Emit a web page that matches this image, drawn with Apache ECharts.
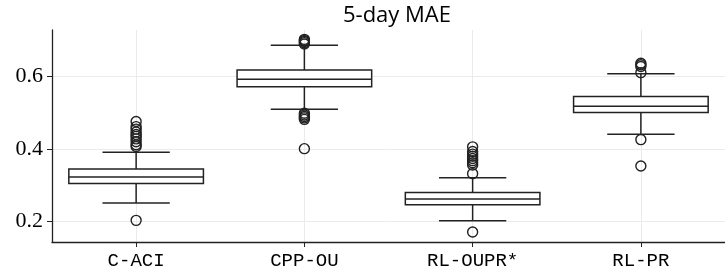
<!DOCTYPE html>
<html>
<head>
<meta charset="utf-8">
<script src="https://cdn.jsdelivr.net/npm/echarts@6/dist/echarts.min.js"></script>
<style>
html,body{margin:0;padding:0;background:#fff;}
#chart{width:725px;height:280px;}
</style>
</head>
<body>
<div id="chart"></div>
<script>
const categories = ['C-ACI', 'CPP-OU', 'RL-OUPR*', 'RL-PR'];
const lowWhisker = [0.251, 0.510, 0.202, 0.441];
const q1 = [0.305, 0.572, 0.246, 0.501];
const median = [0.323, 0.593, 0.262, 0.518];
const q3 = [0.345, 0.618, 0.280, 0.545];
const highWhisker = [0.391, 0.687, 0.321, 0.608];
const outliersCACI = [0.203, 0.407, 0.412, 0.420, 0.428, 0.435, 0.440, 0.447, 0.455, 0.462, 0.476];
const outliersCPPOU = [0.401, 0.482, 0.486, 0.490, 0.494, 0.499, 0.690, 0.694, 0.697, 0.700, 0.703];
const outliersRLOUPR = [0.171, 0.332, 0.356, 0.362, 0.368, 0.374, 0.380, 0.386, 0.393, 0.406];
const outliersRLPR = [0.353, 0.426, 0.611, 0.628, 0.633, 0.637];
const yTicks = [0.2, 0.4, 0.6];

const outlierLists = [outliersCACI, outliersCPPOU, outliersRLOUPR, outliersRLPR];
const boxData = categories.map((c, i) => [i + 1, lowWhisker[i], q1[i], median[i], q3[i], highWhisker[i]]);
const outlierData = [];
outlierLists.forEach((list, i) => list.forEach(v => outlierData.push([i + 1, v])));
const xTicks = categories.map((c, i) => i + 1);

const LINE = '#222';
const LW = 1.5;

const chart = echarts.init(document.getElementById('chart'), null, {renderer: 'canvas'});
chart.setOption({
  animation: false,
  backgroundColor: '#fff',
  title: {
    text: '5-day MAE',
    left: 392,
    top: 0,
    textAlign: 'center',
    textStyle: {fontFamily: 'Open Sans', fontSize: 22, fontWeight: 'normal', color: '#000'}
  },
  grid: {left: 52, top: 30, width: 680, height: 212, containLabel: false},
  xAxis: {
    type: 'value',
    min: 0.5,
    max: 4.5,
    axisLine: {show: true, onZero: false, lineStyle: {color: LINE, width: 1.3}},
    axisTick: {show: true, customValues: xTicks, length: 5, lineStyle: {color: LINE, width: 1}},
    axisLabel: {
      customValues: xTicks,
      formatter: v => categories[Math.round(v) - 1] || '',
      fontFamily: 'Liberation Mono', fontSize: 19, color: '#000', margin: 9
    },
    splitLine: {show: true, lineStyle: {color: '#ebebeb', width: 1}}
  },
  yAxis: {
    type: 'value',
    min: 0.1432,
    max: 0.7288,
    axisLine: {show: true, lineStyle: {color: LINE, width: 1.3}},
    axisTick: {show: true, customValues: yTicks, length: 5, lineStyle: {color: LINE, width: 1}},
    axisLabel: {
      customValues: yTicks,
      formatter: v => v.toFixed(1),
      fontFamily: 'Liberation Serif', fontSize: 22, color: '#000', margin: 9
    },
    splitLine: {show: true, lineStyle: {color: '#ebebeb', width: 1}}
  },
  series: [
    {
      type: 'custom',
      data: boxData,
      encode: {x: 0, y: [1, 2, 3, 4, 5]},
      z: 3,
      renderItem: function (params, api) {
        const x = api.value(0);
        const band = api.size([1, 0])[0];
        const bw = band * 0.8;
        const cw = band * 0.4;
        const pLow = api.coord([x, api.value(1)]);
        const pQ1 = api.coord([x, api.value(2)]);
        const pMed = api.coord([x, api.value(3)]);
        const pQ3 = api.coord([x, api.value(4)]);
        const pHigh = api.coord([x, api.value(5)]);
        const cx = pMed[0];
        const ls = {stroke: LINE, lineWidth: LW, fill: null};
        return {
          type: 'group',
          children: [
            {type: 'line', shape: {x1: cx, y1: pQ3[1], x2: cx, y2: pHigh[1]}, style: ls},
            {type: 'line', shape: {x1: cx, y1: pQ1[1], x2: cx, y2: pLow[1]}, style: ls},
            {type: 'line', shape: {x1: cx - cw / 2, y1: pHigh[1], x2: cx + cw / 2, y2: pHigh[1]}, style: ls},
            {type: 'line', shape: {x1: cx - cw / 2, y1: pLow[1], x2: cx + cw / 2, y2: pLow[1]}, style: ls},
            {type: 'rect', shape: {x: cx - bw / 2, y: pQ3[1], width: bw, height: pQ1[1] - pQ3[1]},
              style: {stroke: LINE, lineWidth: LW, fill: '#fff'}},
            {type: 'line', shape: {x1: cx - bw / 2, y1: pMed[1], x2: cx + bw / 2, y2: pMed[1]}, style: ls}
          ]
        };
      }
    },
    {
      type: 'scatter',
      data: outlierData,
      z: 4,
      symbol: 'circle',
      symbolSize: 10,
      itemStyle: {color: 'rgba(0,0,0,0)', borderColor: LINE, borderWidth: 1.4, opacity: 1}
    }
  ]
});
</script>
</body>
</html>
